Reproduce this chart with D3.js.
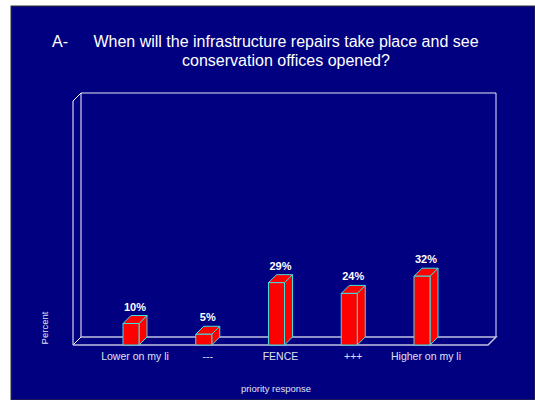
<!DOCTYPE html>
<html>
<head>
<meta charset="utf-8">
<script src="https://cdn.jsdelivr.net/npm/d3@7"></script>
<style>
  body { margin: 0; background: #fff; }
  svg { display: block; font-family: "Liberation Sans", Arial, sans-serif; }
</style>
</head>
<body>
<div id="chart"></div>
<script>
const categories = ["Lower on my li", "---", "FENCE", "+++", "Higher on my li"];
const values = [10, 5, 29, 24, 32];
const titleLines = ["When will the infrastructure repairs take place and see", "conservation offices opened?"];

const width = 535, height = 400;
const depth = 8;          // 3d offset
const barW = 16;

const svg = d3.select("#chart").append("svg")
    .attr("width", width)
    .attr("height", height);

// slide background
svg.append("rect")
    .attr("x", 11).attr("y", 6)
    .attr("width", width - 11).attr("height", height - 6)
    .attr("fill", "#000080")
    .attr("stroke", "#333")
    .attr("stroke-width", 1);

// title
svg.append("text")
    .attr("x", 52).attr("y", 47)
    .attr("fill", "#fff").attr("font-size", 16)
    .text("A-");
svg.selectAll(".title")
    .data(titleLines)
    .enter().append("text")
    .attr("class", "title")
    .attr("x", 286)
    .attr("y", (d, i) => 47 + i * 19)
    .attr("text-anchor", "middle")
    .attr("fill", "#fff").attr("font-size", 16)
    .text(d => d);

// scales
const yMax = 113.5;
const y = d3.scaleLinear().domain([0, yMax]).range([345, 101]);
const x = d3.scalePoint().domain(categories).range([131, 422]);

const wallLeft = 73, wallRight = 488;
const floorY = y(0), wallTop = y(yMax);

// walls
const wall = svg.append("g").attr("fill", "none");
wall.append("path")
    .attr("stroke", "#ffffff").attr("stroke-width", 1)
    .attr("d", `M${wallLeft},${floorY}V${wallTop}L${wallLeft + depth},${wallTop - depth}V${floorY - depth}L${wallLeft},${floorY}`);
wall.append("path")
    .attr("stroke", "#e8e8f8").attr("stroke-width", 1)
    .attr("d", `M${wallLeft + depth},${wallTop - depth}H${wallRight + depth}V${floorY - depth}`);
wall.append("path")
    .attr("stroke", "#c0c0e0").attr("stroke-width", 1.5)
    .attr("d", `M${wallLeft + depth},${floorY - depth}H${wallRight + depth}L${wallRight},${floorY}H${wallLeft}`);

// bars
const bars = svg.selectAll(".bar")
    .data(values)
    .enter().append("g")
    .attr("class", "bar")
    .attr("fill", "#ff0000")
    .attr("stroke", "#40e0e0")
    .attr("stroke-width", 1)
    .attr("stroke-linejoin", "round");

bars.append("path")  // side
    .attr("d", (d, i) => {
        const x1 = x(categories[i]) + barW / 2;
        return `M${x1},${y(d)}L${x1 + depth},${y(d) - depth}V${floorY - depth}L${x1},${floorY}Z`;
    });
bars.append("path")  // top
    .attr("d", (d, i) => {
        const x0 = x(categories[i]) - barW / 2;
        return `M${x0},${y(d)}L${x0 + depth},${y(d) - depth}H${x0 + barW + depth}L${x0 + barW},${y(d)}Z`;
    });
bars.append("rect")  // front
    .attr("x", (d, i) => x(categories[i]) - barW / 2)
    .attr("y", d => y(d))
    .attr("width", barW)
    .attr("height", d => floorY - y(d));

// value labels
svg.selectAll(".val")
    .data(values)
    .enter().append("text")
    .attr("class", "val")
    .attr("x", (d, i) => x(categories[i]) + depth / 2)
    .attr("y", d => y(d) - depth - 5)
    .attr("text-anchor", "middle")
    .attr("fill", "#fff")
    .attr("font-size", 11).attr("font-weight", "bold")
    .text(d => d + "%");

// category labels
svg.selectAll(".cat")
    .data(categories)
    .enter().append("text")
    .attr("class", "cat")
    .attr("x", d => x(d) + depth / 2)
    .attr("y", 360)
    .attr("text-anchor", "middle")
    .attr("fill", "#e0e0f0")
    .attr("font-size", 10.5)
    .text(d => d);

// axis titles
svg.append("text")
    .attr("x", 276).attr("y", 392)
    .attr("text-anchor", "middle")
    .attr("fill", "#e0e0f0").attr("font-size", 9.5)
    .text("priority response");
svg.append("text")
    .attr("transform", "translate(48,328) rotate(-90)")
    .attr("text-anchor", "middle")
    .attr("fill", "#e0e0f0").attr("font-size", 9.5)
    .text("Percent");
</script>
</body>
</html>
